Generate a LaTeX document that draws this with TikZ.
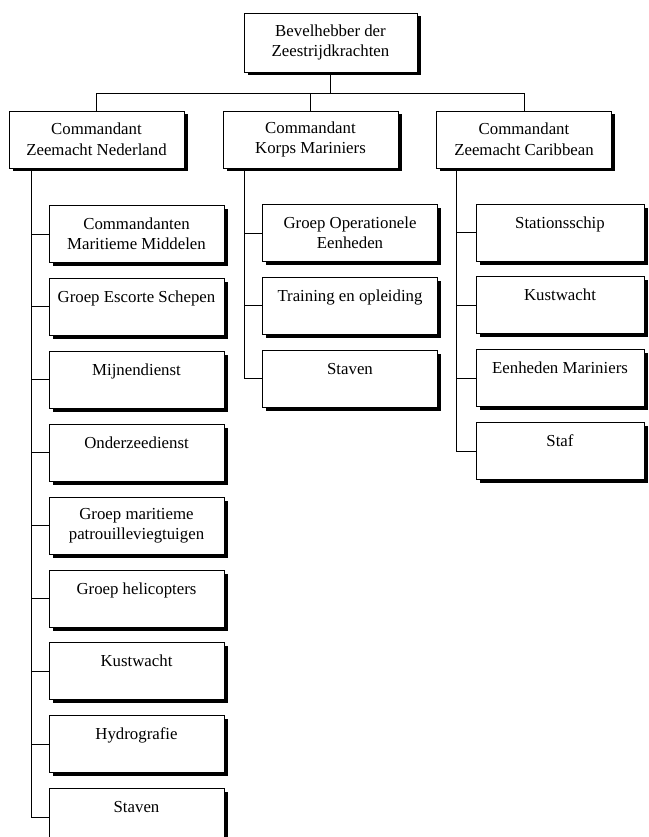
\documentclass[tikz,border=0pt]{standalone}
\usepackage{fontspec}
\setmainfont{Liberation Serif}
\usepackage{tikz}
\usetikzlibrary{positioning, shadows}
\tikzset{
	every node/.append style={
		font={\fontsize{16.8}{20.5}\selectfont},
	},
	unit/.append style={
		draw,
		fill=white,
		line width=0.9pt,
		align = center,
		minimum width=175pt,
		minimum height=57pt,
		general shadow={fill=black, shadow xshift=3.5pt, shadow yshift=-3.5pt},
	},
	narrow/.append style={
		minimum width=168pt,
	},
	link/.append style={
		line width=0.9pt,
	}
}

\begin{document}
\begin{tikzpicture}[x=1pt, y=-1pt, node distance=15pt]
\useasboundingbox (0,0) rectangle (648,837);
\node(bdz)[unit, minimum width=173pt, minimum height=59pt] at (330.5,42.5) {Bevelhebber der\\Zeestrijdkrachten};
\node(czn)[unit] at (96.5,139.5) {Commandant\\Zeemacht Nederland};
\node(ckm)[unit] at (310.5,139.5) {Commandant\\Korps Mariniers};
\node(czc)[unit] at (524,139.5) {Commandant\\Zeemacht Caribbean};

% Zeemacht Nederland
\node(n1)[unit] at (136.5,234) {Commandanten\\Maritieme Middelen};
\node(n2)[unit, below = of n1] {Groep Escorte Schepen\\~};
\node(n3)[unit, below = of n2] {Mijnendienst\\~};
\node(n4)[unit, below = of n3] {Onderzeedienst\\~};
\node(n5)[unit, below = of n4] {Groep maritieme\\patrouilleviegtuigen};
\node(n6)[unit, below = of n5] {Groep helicopters\\~};
\node(n7)[unit, below = of n6] {Kustwacht\\~};
\node(n8)[unit, below = of n7] {Hydrografie\\~};
\node(n9)[unit, below = of n8] {Staven\\~};

% Korps Mariniers
\node(m1)[unit] at (350,233) {Groep Operationele\\Eenheden};
\node(m2)[unit, below = of m1] {Training en opleiding\\~};
\node(m3)[unit, below = of m2] {Staven\\~};

% Zeemacht Caribbean
\node(c1)[unit, narrow] at (560,232.5) {Stationsschip\\~};
\node(c2)[unit, narrow, below = of c1] {Kustwacht\\~};
\node(c3)[unit, narrow, below = of c2] {Eenheden Mariniers\\~};
\node(c4)[unit, narrow, below = of c3] {Staf\\~};

\draw[link] (bdz.south) -- ++(0,21) coordinate(bus);
\draw[link] (czn.north) |- (bus) -| (czc.north);
\draw[link] (ckm.north) -- (ckm.north |- bus);

\coordinate(sn) at ([xshift=23pt]czn.south west);
\coordinate(sm) at ([xshift=22pt]ckm.south west);
\coordinate(sc) at ([xshift=20pt]czc.south west);
\draw[link] (sn) |- (n1.west) (sn) |- (n2.west) (sn) |- (n3.west) (sn) |- (n4.west) (sn) |- (n5.west)
	(sn) |- (n6.west) (sn) |- (n7.west) (sn) |- (n8.west) (sn) |- (n9.west);
\draw[link] (sm) |- (m1.west) (sm) |- (m2.west) (sm) |- (m3.west);
\draw[link] (sc) |- (c1.west) (sc) |- (c2.west) (sc) |- (c3.west) (sc) |- (c4.west);
\end{tikzpicture}
\end{document}
